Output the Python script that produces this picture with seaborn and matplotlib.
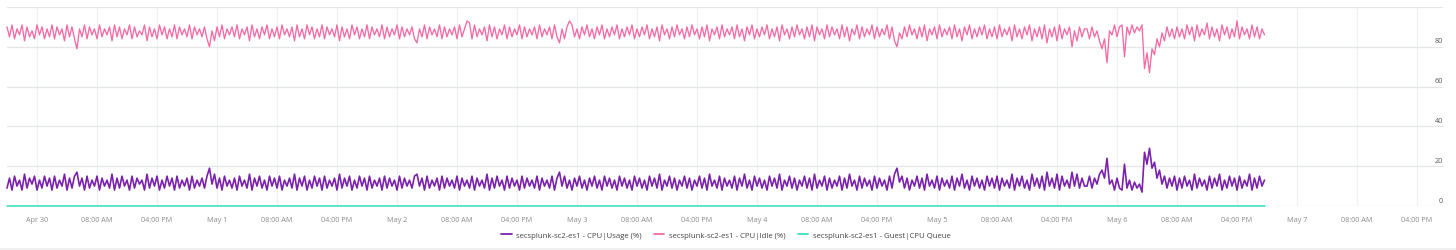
import numpy as np
import pandas as pd
import matplotlib
matplotlib.use("Agg")
import matplotlib.pyplot as plt
from matplotlib.lines import Line2D
from matplotlib.ticker import FuncFormatter
import matplotlib.dates as mdates
import seaborn as sns

# ---------------- data (20-minute samples starting 2024-04-29 20:00) ----------------
start_time = "2024-04-29 20:00"

cpu_usage = [
    9, 14, 8, 15, 10, 13, 8, 16, 9, 14, 11, 15, 8, 13, 9, 15, 10, 14, 8, 15, 9, 13, 10, 16, 8, 14, 9, 15, 17, 10, 14, 8, 15, 9, 13, 10,
    15, 8, 14, 10, 13, 9, 16, 8, 14, 9, 15, 10, 13, 8, 15, 9, 14, 11, 13, 8, 16, 9, 14, 10, 15, 8, 13, 9, 15, 10, 14, 8, 15, 9, 13, 10,
    14, 8, 15, 9, 13, 10, 14, 9, 15, 19, 11, 16, 9, 14, 8, 15, 10, 13, 9, 14, 8, 15, 10, 13, 9, 16, 8, 14, 10, 15, 9, 13, 8, 15, 10, 14,
    9, 15, 8, 13, 10, 14, 9, 16, 8, 14, 10, 15, 8, 13, 9, 15, 10, 14, 8, 15, 9, 13, 10, 14, 8, 16, 9, 14, 10, 15, 8, 13, 9, 15, 10, 14,
    8, 15, 9, 13, 10, 14, 8, 15, 9, 14, 10, 13, 8, 15, 9, 14, 10, 13, 9, 15, 16, 10, 14, 8, 15, 9, 13, 10, 14, 8, 15, 9, 14, 10, 13, 9,
    15, 8, 14, 10, 13, 9, 15, 8, 14, 10, 13, 9, 16, 8, 14, 9, 15, 10, 13, 8, 15, 9, 14, 10, 13, 8, 15, 9, 14, 10, 13, 9, 15, 8, 14, 10,
    13, 9, 15, 8, 14, 17, 10, 15, 9, 13, 8, 14, 10, 15, 9, 13, 8, 14, 10, 15, 9, 13, 8, 15, 10, 14, 9, 13, 8, 15, 10, 14, 9, 13, 8, 15,
    10, 14, 9, 13, 8, 15, 10, 14, 9, 16, 8, 13, 10, 15, 9, 14, 8, 13, 10, 15, 9, 14, 8, 13, 10, 15, 9, 14, 8, 16, 10, 13, 9, 15, 8, 14,
    10, 13, 9, 15, 8, 14, 10, 16, 9, 13, 8, 15, 10, 14, 9, 13, 8, 15, 10, 14, 9, 16, 8, 13, 10, 15, 9, 14, 8, 13, 10, 15, 9, 14, 8, 16,
    9, 13, 10, 15, 8, 14, 9, 13, 10, 15, 8, 14, 9, 16, 10, 13, 8, 15, 9, 14, 10, 13, 8, 15, 9, 14, 10, 13, 8, 15, 9, 16, 19, 12, 15, 9,
    14, 8, 13, 10, 15, 9, 14, 8, 16, 10, 13, 9, 15, 8, 14, 10, 13, 9, 15, 8, 14, 10, 16, 9, 13, 8, 15, 10, 14, 9, 13, 8, 15, 10, 14, 9,
    15, 8, 14, 10, 13, 9, 16, 8, 14, 10, 15, 9, 13, 8, 16, 10, 14, 9, 15, 8, 17, 10, 14, 9, 16, 8, 15, 10, 13, 9, 17, 10, 16, 9, 14, 10,
    10, 15, 9, 14, 11, 16, 18, 14, 24, 11, 13, 8, 14, 9, 8, 21, 9, 13, 8, 12, 9, 11, 7, 27, 21, 29, 19, 22, 14, 18, 11, 15, 9, 14, 10, 15,
    8, 14, 9, 15, 10, 13, 8, 16, 9, 14, 10, 13, 8, 15, 9, 14, 10, 16, 8, 13, 9, 15, 10, 14, 8, 15, 9, 13, 10, 16, 8, 14, 9, 15, 10, 13,
]

cpu_idle = [
    90, 85, 91, 84, 89, 86, 91, 83, 90, 85, 88, 84, 91, 86, 90, 84, 89, 85, 91, 84, 90, 86, 89, 83, 91, 85, 90, 84, 79, 89, 85, 91, 84, 90, 86, 89,
    84, 91, 85, 89, 86, 90, 83, 91, 85, 90, 84, 89, 86, 91, 84, 90, 85, 88, 86, 91, 83, 90, 85, 89, 84, 91, 86, 90, 84, 89, 85, 91, 84, 90, 86, 89,
    85, 91, 84, 90, 86, 89, 85, 90, 84, 80, 88, 83, 90, 85, 91, 84, 89, 86, 90, 85, 91, 84, 89, 86, 90, 83, 91, 85, 89, 84, 90, 86, 91, 84, 89, 85,
    90, 84, 91, 86, 89, 85, 90, 83, 91, 85, 89, 84, 91, 86, 90, 84, 89, 85, 91, 84, 90, 86, 89, 85, 91, 83, 90, 85, 89, 84, 91, 86, 90, 84, 89, 85,
    91, 84, 90, 86, 89, 85, 91, 84, 90, 85, 89, 86, 91, 84, 90, 85, 89, 86, 90, 84, 82, 89, 85, 91, 84, 90, 86, 89, 85, 91, 84, 90, 85, 89, 86, 90,
    84, 91, 85, 89, 93, 92, 84, 91, 85, 89, 86, 90, 83, 91, 85, 90, 84, 89, 86, 91, 84, 90, 85, 89, 86, 91, 84, 90, 85, 89, 86, 90, 84, 91, 85, 89,
    86, 90, 84, 91, 85, 82, 89, 84, 90, 93, 91, 85, 89, 84, 90, 86, 91, 85, 89, 84, 90, 86, 91, 84, 89, 85, 90, 86, 91, 84, 89, 85, 90, 86, 91, 84,
    89, 85, 90, 86, 91, 84, 89, 85, 90, 83, 91, 86, 89, 84, 90, 85, 91, 86, 89, 84, 90, 85, 91, 86, 89, 84, 90, 85, 91, 83, 89, 86, 90, 84, 91, 85,
    89, 86, 90, 84, 91, 85, 89, 83, 90, 86, 91, 84, 89, 85, 90, 86, 91, 84, 89, 85, 90, 83, 91, 86, 89, 84, 90, 85, 91, 86, 89, 84, 90, 85, 91, 83,
    90, 86, 89, 84, 91, 85, 90, 86, 89, 84, 91, 85, 90, 83, 89, 86, 91, 84, 90, 85, 89, 86, 91, 84, 90, 85, 89, 86, 91, 84, 90, 83, 80, 87, 84, 90,
    85, 91, 86, 89, 84, 90, 85, 91, 83, 89, 86, 90, 84, 91, 85, 89, 86, 90, 84, 91, 85, 89, 83, 90, 86, 91, 84, 89, 85, 90, 86, 91, 84, 89, 85, 90,
    84, 91, 85, 89, 86, 90, 83, 91, 85, 89, 84, 90, 86, 91, 83, 89, 85, 90, 84, 91, 82, 89, 85, 90, 83, 91, 84, 89, 86, 90, 80, 88, 83, 90, 85, 89,
    89, 84, 90, 85, 88, 83, 79, 84, 72, 88, 86, 91, 85, 90, 91, 75, 90, 86, 91, 87, 90, 88, 91, 69, 77, 67, 79, 76, 84, 80, 87, 83, 90, 85, 89, 84,
    90, 85, 89, 84, 91, 86, 90, 83, 91, 85, 89, 86, 92, 84, 90, 85, 89, 83, 91, 86, 90, 84, 89, 85, 93, 84, 90, 86, 89, 84, 91, 85, 90, 84, 89, 86,
]

series_names = [
    "secsplunk-sc2-es1 - CPU|Usage (%)",
    "secsplunk-sc2-es1 - CPU|Idle (%)",
    "secsplunk-sc2-es1 - Guest|CPU Queue",
]
y_ticks = [0, 20, 40, 60, 80]

usage_times = pd.date_range(start_time, periods=len(cpu_usage), freq="20min")
idle_times = pd.date_range(start_time, periods=len(cpu_idle), freq="20min")
guest_queue = [0.0] * len(usage_times)  # flat zero series

colors = ["#7a22ab", "#f36aa5", "#3fe0c5"]
widths = [1.2, 0.95, 1.2]

# ---------------- figure ----------------
sns.set_style("white")
plt.rcParams["font.family"] = ["Open Sans", "DejaVu Sans"]

fig = plt.figure(figsize=(14.56, 2.51), dpi=100)
W, H = 1456, 251
ax = fig.add_axes([7 / W, 1 - 207 / H, (1443 - 7) / W, (207 - 8) / H])

for name, t, vals, c, lw in zip(series_names, [usage_times, idle_times, usage_times],
                                [cpu_usage, cpu_idle, guest_queue], colors, widths):
    df = pd.DataFrame({"time": t, "value": vals})
    sns.lineplot(data=df, x="time", y="value", ax=ax, color=c, linewidth=lw,
                 legend=False, clip_on=False, zorder=3)

ax.set_xlim(pd.Timestamp("2024-04-29 20:00"), pd.Timestamp("2024-05-07 19:28"))
ax.set_ylim(0, 100)

# x ticks every 8 hours from Apr 30
xt = pd.date_range("2024-04-30 00:00", "2024-05-07 16:00", freq="8h")
ax.set_xticks(xt)

def fmt(x, pos):
    d = mdates.num2date(x)
    if d.hour == 0:
        return f"{d.strftime('%b')} {d.day}"
    return d.strftime("%I:%M %p")

ax.xaxis.set_major_formatter(FuncFormatter(fmt))
ax.tick_params(axis="x", length=2.5, width=0.8, color="#eeeeee", pad=5.0,
               labelsize=5.2, labelcolor="#8a8a8a")

# horizontal grid and right-hand labels
ax.set_yticks(y_ticks + [100])
ax.set_yticklabels([])
ax.tick_params(axis="y", length=0)
ax.grid(axis="y", color="#e3e6ea", linewidth=0.9)
ax.grid(axis="x", color="#eef0f2", linewidth=0.9)
for v in y_ticks:
    ax.text(1.0, v + 1.2, str(v), transform=ax.get_yaxis_transform(),
            ha="right", va="bottom", fontsize=5.2, color="#555555")

for s in ax.spines.values():
    s.set_visible(False)
ax.set_xlabel("")
ax.set_ylabel("")

# legend
handles = [Line2D([0], [0], color=c, linewidth=1.3) for c in colors]
fig.legend(handles, series_names, loc="center", bbox_to_anchor=(726 / W, 1 - 236 / H),
           ncol=3, frameon=False, fontsize=5.6, handlelength=1.3, handletextpad=0.6,
           columnspacing=1.6, labelcolor="#444444")

# bottom separator line
fig.add_artist(Line2D([0, 1], [1 - 249.5 / H, 1 - 249.5 / H], transform=fig.transFigure,
                      color="#ededed", linewidth=1.2))

fig.savefig("out.png", dpi=100)
